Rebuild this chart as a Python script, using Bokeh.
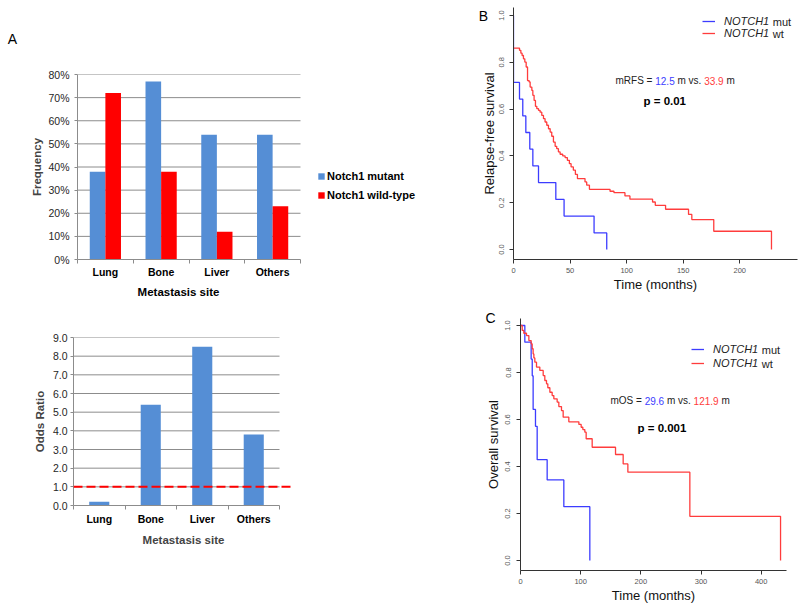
import numpy as np
from bokeh.plotting import figure
from bokeh.models import (Range1d, FixedTicker, NumeralTickFormatter, Label,
                          Legend, LegendItem, Span)
from bokeh.embed import file_html
from bokeh.resources import INLINE

FONT = "Liberation Sans"

# ---------------- data: panel A ----------------
sites = ["Lung", "Bone", "Liver", "Others"]
freq_mutant = [0.38, 0.77, 0.54, 0.54]
freq_wildtype = [0.72, 0.38, 0.12, 0.23]
freq_ticks = [0.0, 0.1, 0.2, 0.3, 0.4, 0.5, 0.6, 0.7, 0.8]
odds_ratio = [0.2, 5.4, 8.5, 3.8]
odds_ticks = [0, 1, 2, 3, 4, 5, 6, 7, 8, 9]
odds_reference = 1.0
site_axis_title = "Metastasis site"

# ---------------- data: panel B (relapse-free survival) ----------------
rfs_mut_time = [0, 0, 5.3, 8.2, 10.9, 14.4, 17.1, 22.1, 37.4, 44.7, 71.2, 82.4]
rfs_mut_surv = [1.0, 0.714, 0.643, 0.571, 0.5, 0.429, 0.357, 0.286, 0.214, 0.143, 0.071, 0.0]
rfs_wt_time = [0, 5.3, 6.5, 7.6, 8.8, 10.0, 11.2, 12.4, 13.8, 14.7, 16.2, 17.1, 18.2,
               19.4, 20.6, 22.1, 23.5, 25.0, 26.5, 27.9, 29.4, 30.9, 32.4, 33.8, 35.3,
               36.8, 38.2, 39.7, 41.2, 43.5, 45.6, 47.6, 49.4, 50.9, 52.9, 54.7, 56.5,
               63.2, 64.7, 67.1, 85.3, 88.8, 98.5, 102.9, 122.9, 125.3, 134.4, 154.7,
               157.6, 177.0, 228.0]
rfs_wt_surv = [0.861, 0.851, 0.839, 0.829, 0.815, 0.801, 0.780, 0.722, 0.716, 0.694,
               0.680, 0.659, 0.637, 0.612, 0.602, 0.595, 0.587, 0.573, 0.559, 0.545,
               0.531, 0.516, 0.502, 0.484, 0.459, 0.441, 0.431, 0.417, 0.407, 0.400,
               0.393, 0.381, 0.367, 0.353, 0.339, 0.321, 0.303, 0.289, 0.275, 0.257,
               0.249, 0.243, 0.229, 0.215, 0.203, 0.189, 0.172, 0.150, 0.128, 0.078, 0.0]
rfs_ticks_x = [0, 50, 100, 150, 200]

# ---------------- data: panel C (overall survival) ----------------
os_mut_time = [0, 7.2, 17.7, 19.5, 21.0, 24.9, 27.7, 44.3, 72.0, 115.2]
os_mut_surv = [1.0, 0.929, 0.857, 0.786, 0.643, 0.571, 0.429, 0.343, 0.229, 0.0]
os_wt_time = [0, 2.8, 5.5, 10.0, 13.9, 17.7, 19.4, 21.0, 22.2, 23.8, 26.6, 32.1, 37.7,
              40.4, 43.2, 45.4, 48.8, 52.6, 55.4, 60.9, 63.7, 68.1, 70.9, 80.3, 97.0,
              100.8, 103.6, 106.9, 109.1, 119.1, 157.9, 170.6, 178.4, 281.4, 432.1]
os_wt_surv = [1.0, 0.979, 0.967, 0.957, 0.936, 0.922, 0.901, 0.879, 0.862, 0.844,
              0.823, 0.809, 0.787, 0.766, 0.752, 0.735, 0.716, 0.702, 0.688, 0.674,
              0.655, 0.638, 0.610, 0.590, 0.579, 0.567, 0.557, 0.546, 0.518, 0.482,
              0.451, 0.411, 0.376, 0.188, 0.0]
os_ticks_x = [0, 100, 200, 300, 400]
surv_ticks = [0.0, 0.2, 0.4, 0.6, 0.8, 1.0]

panel_letters = ["A", "B", "C"]

# ---------------- styles ----------------
BAR_BLUE = "#558ED5"
BAR_RED = "#FF0000"
GRID = "#8c8c8c"
KM_BLUE = "#3c3cff"
KM_RED = "#ff3c3c"
TXT = "#222222"

ARIAL = {' ': 278, '.': 278, '=': 584, 'm': 833, 'v': 500, 's': 500, 'R': 722,
         'F': 611, 'S': 667, 'O': 778, 'N': 722, 'T': 611, 'C': 722, 'H': 722,
         'p': 556}
for d in "0123456789":
    ARIAL[d] = 556


def tw(s, size):
    return sum(ARIAL.get(c, 556) for c in s) * size / 1000.0


def base_fig(w, h, xr, yr, left, right, top, bottom, pos, transparent=False):
    p = figure(width=w, height=h, x_range=xr, y_range=yr, output_backend="svg",
               toolbar_location=None, min_border_left=left, min_border_right=right,
               min_border_top=top, min_border_bottom=bottom, frame_align=False,
               styles={"position": "absolute", "left": f"{pos[0]}px",
                       "top": f"{pos[1]}px"})
    p.outline_line_color = None
    if transparent:
        p.background_fill_alpha = 0
        p.border_fill_alpha = 0
    else:
        p.background_fill_color = "white"
        p.border_fill_color = "white"
    return p


def style_bar_axes(p, centers, yticks, yfmt, ylabel):
    p.xgrid.visible = False
    p.ygrid.visible = False
    gy = yticks[1:]
    p.segment(x0=[0] * len(gy), x1=[len(sites)] * len(gy), y0=gy, y1=gy,
              line_color=GRID, line_width=1)
    ax = p.xaxis[0]
    ax.bounds = (0, len(sites))
    ax.ticker = FixedTicker(ticks=list(centers), minor_ticks=list(range(len(sites) + 1)))
    ax.major_label_overrides = {float(c): s for c, s in zip(centers, sites)}
    ax.major_tick_out = 0
    ax.major_tick_in = 0
    ax.minor_tick_out = 4
    ax.minor_tick_in = 0
    ax.minor_tick_line_color = GRID
    ax.axis_line_color = GRID
    ax.major_label_text_font = FONT
    ax.major_label_text_font_style = "bold"
    ax.major_label_text_font_size = "10.5px"
    ax.major_label_text_color = "black"
    ax.major_label_standoff = 5
    ax.axis_label = site_axis_title
    ax.axis_label_text_font = FONT
    ax.axis_label_text_font_style = "bold"
    ax.axis_label_text_font_size = "11.5px"
    ax.axis_label_standoff = 0
    ay = p.yaxis[0]
    ay.ticker = FixedTicker(ticks=yticks)
    ay.formatter = NumeralTickFormatter(format=yfmt)
    ay.major_tick_out = 3
    ay.major_tick_in = 0
    ay.minor_tick_out = 0
    ay.minor_tick_in = 0
    ay.major_tick_line_color = GRID
    ay.axis_line_color = GRID
    ay.major_label_text_font = FONT
    ay.major_label_text_font_size = "10.5px"
    ay.major_label_text_color = "#262626"
    ay.major_label_standoff = 5
    ay.axis_label = ylabel
    ay.axis_label_text_font = FONT
    ay.axis_label_text_font_style = "bold"
    ay.axis_label_text_font_size = "11.5px"
    ay.axis_label_standoff = 2


centers = np.arange(len(sites)) + 0.5

# ---------------- Panel A (top): frame 77..420 px, bars use the first 223 px ----------------
pA1 = base_fig(470, 310, Range1d(0, len(sites) * 343 / 223),
               Range1d(freq_ticks[0], freq_ticks[-1]), 77, 50, 74, 51, (0, 0))
style_bar_axes(pA1, centers, freq_ticks, "0%", "Frequency")
pA1.xaxis[0].axis_label = None          # title is centred under the bars (see overlay)
pA1.xaxis[0].major_label_standoff = 2
r_mut = pA1.vbar(x=centers - 0.14, top=freq_mutant, width=0.28,
                 fill_color=BAR_BLUE, line_color=None)
r_wt = pA1.vbar(x=centers + 0.14, top=freq_wildtype, width=0.28,
                fill_color=BAR_RED, line_color=None)
legA = Legend(items=[LegendItem(label="Notch1 mutant", renderers=[r_mut]),
                     LegendItem(label="Notch1 wild-type", renderers=[r_wt])],
              location=(240, 58), orientation="vertical", glyph_width=8, glyph_height=8,
              label_height=13, label_standoff=2, spacing=6, padding=0, margin=0,
              border_line_color=None, background_fill_alpha=0,
              label_text_font=FONT, label_text_font_style="bold",
              label_text_font_size="11px", label_text_color="black")
pA1.add_layout(legA, "center")

# ---------------- Panel A (bottom): frame 73..293 px, bars use the first 206 px ----------------
pA2 = base_fig(470, 301, Range1d(0, len(sites) * 220 / 206),
               Range1d(odds_ticks[0], odds_ticks[-1]), 73, 177, 27, 106, (0, 310))
style_bar_axes(pA2, centers, odds_ticks, "0.0", "Odds Ratio")
pA2.vbar(x=centers, top=odds_ratio, width=0.39, fill_color=BAR_BLUE, line_color=None)
pA2.xaxis[0].major_label_standoff = 3
pA2.xaxis[0].axis_label_standoff = 6
pA2.yaxis[0].major_label_standoff = 3
pA2.yaxis[0].axis_label_standoff = 4
pA2.add_layout(Span(location=odds_reference, dimension="width", line_color="#FF0000",
                    line_width=2, line_dash="9 4"))


# ---------------- KM helpers ----------------
def style_km(p, xticks, ylabel, lab_std, title_std):
    p.xgrid.visible = False
    p.ygrid.visible = False
    ax = p.xaxis[0]
    ax.ticker = FixedTicker(ticks=xticks)
    ay = p.yaxis[0]
    ay.ticker = FixedTicker(ticks=surv_ticks)
    ay.formatter = NumeralTickFormatter(format="0.0")
    ay.major_label_orientation = "vertical"
    for a in (ax, ay):
        a.major_tick_out = 4
        a.major_tick_in = 0
        a.minor_tick_out = 0
        a.minor_tick_in = 0
        a.axis_line_color = "#333333"
        a.major_tick_line_color = "#333333"
        a.major_label_text_font = FONT
        a.major_label_text_font_size = "7.5px"
        a.major_label_text_color = "#555555"
        a.axis_label_text_font = FONT
        a.axis_label_text_font_style = "normal"
        a.axis_label_text_font_size = "13px"
        a.axis_label_text_color = "#111111"
    ax.axis_label = "Time (months)"
    ax.major_label_standoff = 4
    ax.axis_label_standoff = 1
    ay.axis_label = ylabel
    ay.major_label_standoff = lab_std
    ay.axis_label_standoff = title_std


def add_rich(p, x, y, parts, size):
    off = 0.0
    for text, color, style in parts:
        p.add_layout(Label(x=x, y=y, x_units="screen", y_units="screen", x_offset=off,
                           text=text, text_color=color, text_font=FONT,
                           text_font_size=f"{size}px", text_font_style=style,
                           text_align="left", text_baseline="middle"))
        off += tw(text + " ", size)


def km_legend(p, r1, r2, loc, gh, tag_x, ys):
    leg = Legend(items=[LegendItem(label="NOTCH1", renderers=[r1]),
                        LegendItem(label="NOTCH1", renderers=[r2])],
                 location=loc, orientation="vertical", glyph_width=13, glyph_height=gh,
                 label_height=gh, label_standoff=9, spacing=0, padding=0, margin=0,
                 border_line_color=None, background_fill_alpha=0,
                 label_text_font=FONT, label_text_font_style="italic",
                 label_text_font_size="11px", label_text_color=TXT)
    p.add_layout(leg, "center")
    for word, y in zip(["mut", "wt"], ys):
        p.add_layout(Label(x=tag_x + tw("NOTCH1 ", 11), y=y, x_units="screen",
                           y_units="screen", text=word, text_color=TXT, text_font=FONT,
                           text_font_size="11px", text_align="left",
                           text_baseline="middle"))


# ---------------- Panel B ----------------
pB = base_fig(330, 302, Range1d(0, 251), Range1d(-0.0427, 1.0342), 43, 3, 7, 43, (470, 0))
rb_mut = pB.step(x=rfs_mut_time, y=rfs_mut_surv, mode="after", line_color=KM_BLUE,
                 line_width=1.3)
rb_wt = pB.step(x=rfs_wt_time, y=rfs_wt_surv, mode="after", line_color=KM_RED,
                line_width=1.3)
style_km(pB, rfs_ticks_x, "Relapse-free survival", 5, 0)
km_legend(pB, rb_mut, rb_wt, (189, 220), 12, 211, [238, 226])
add_rich(pB, 102, 179, [("mRFS =", TXT, "normal"), ("12.5", KM_BLUE, "normal"),
                        ("m vs.", TXT, "normal"), ("33.9", KM_RED, "normal"),
                        ("m", TXT, "normal")], 10)
pB.add_layout(Label(x=130, y=159, x_units="screen", y_units="screen", text="p = 0.01",
                    text_font=FONT, text_font_size="11.5px", text_font_style="bold",
                    text_color="black", text_baseline="middle"))

# ---------------- Panel C ----------------
pC = base_fig(330, 309, Range1d(0, 442), Range1d(-0.0426, 1.0298), 50, 14, 16, 41, (470, 302))
rc_mut = pC.step(x=os_mut_time, y=os_mut_surv, mode="after", line_color=KM_BLUE,
                 line_width=1.3)
rc_wt = pC.step(x=os_wt_time, y=os_wt_surv, mode="after", line_color=KM_RED,
                line_width=1.3)
style_km(pC, os_ticks_x, "Overall survival", 6, 2)
km_legend(pC, rc_mut, rc_wt, (171, 200), 14, 193, [221, 207])
add_rich(pC, 90, 170, [("mOS =", TXT, "normal"), ("29.6", KM_BLUE, "normal"),
                       ("m vs.", TXT, "normal"), ("121.9", KM_RED, "normal"),
                       ("m", TXT, "normal")], 10)
pC.add_layout(Label(x=117, y=143, x_units="screen", y_units="screen", text="p = 0.001",
                    text_font=FONT, text_font_size="11.5px", text_font_style="bold",
                    text_color="black", text_baseline="middle"))

# ---------------- overlay (transparent, page-pixel coordinates): letters + A-top x title ----
pL = base_fig(800, 611, Range1d(0, 800), Range1d(611, 0), 0, 0, 0, 0, (0, 0),
              transparent=True)
pL.axis.visible = False
pL.grid.visible = False
for letter, (lx, ly) in zip(panel_letters, [(12, 38), (483, 15), (490, 317)]):
    pL.add_layout(Label(x=lx, y=ly, text=letter, text_font=FONT, text_font_size="14px",
                        text_align="center", text_baseline="middle", text_color="black"))
pL.add_layout(Label(x=178, y=291, text=site_axis_title, text_font=FONT,
                    text_font_size="11.5px", text_font_style="bold", text_align="center",
                    text_baseline="middle", text_color="black"))

open("out.html", "w").write(file_html([pA1, pA2, pB, pC, pL], INLINE))
